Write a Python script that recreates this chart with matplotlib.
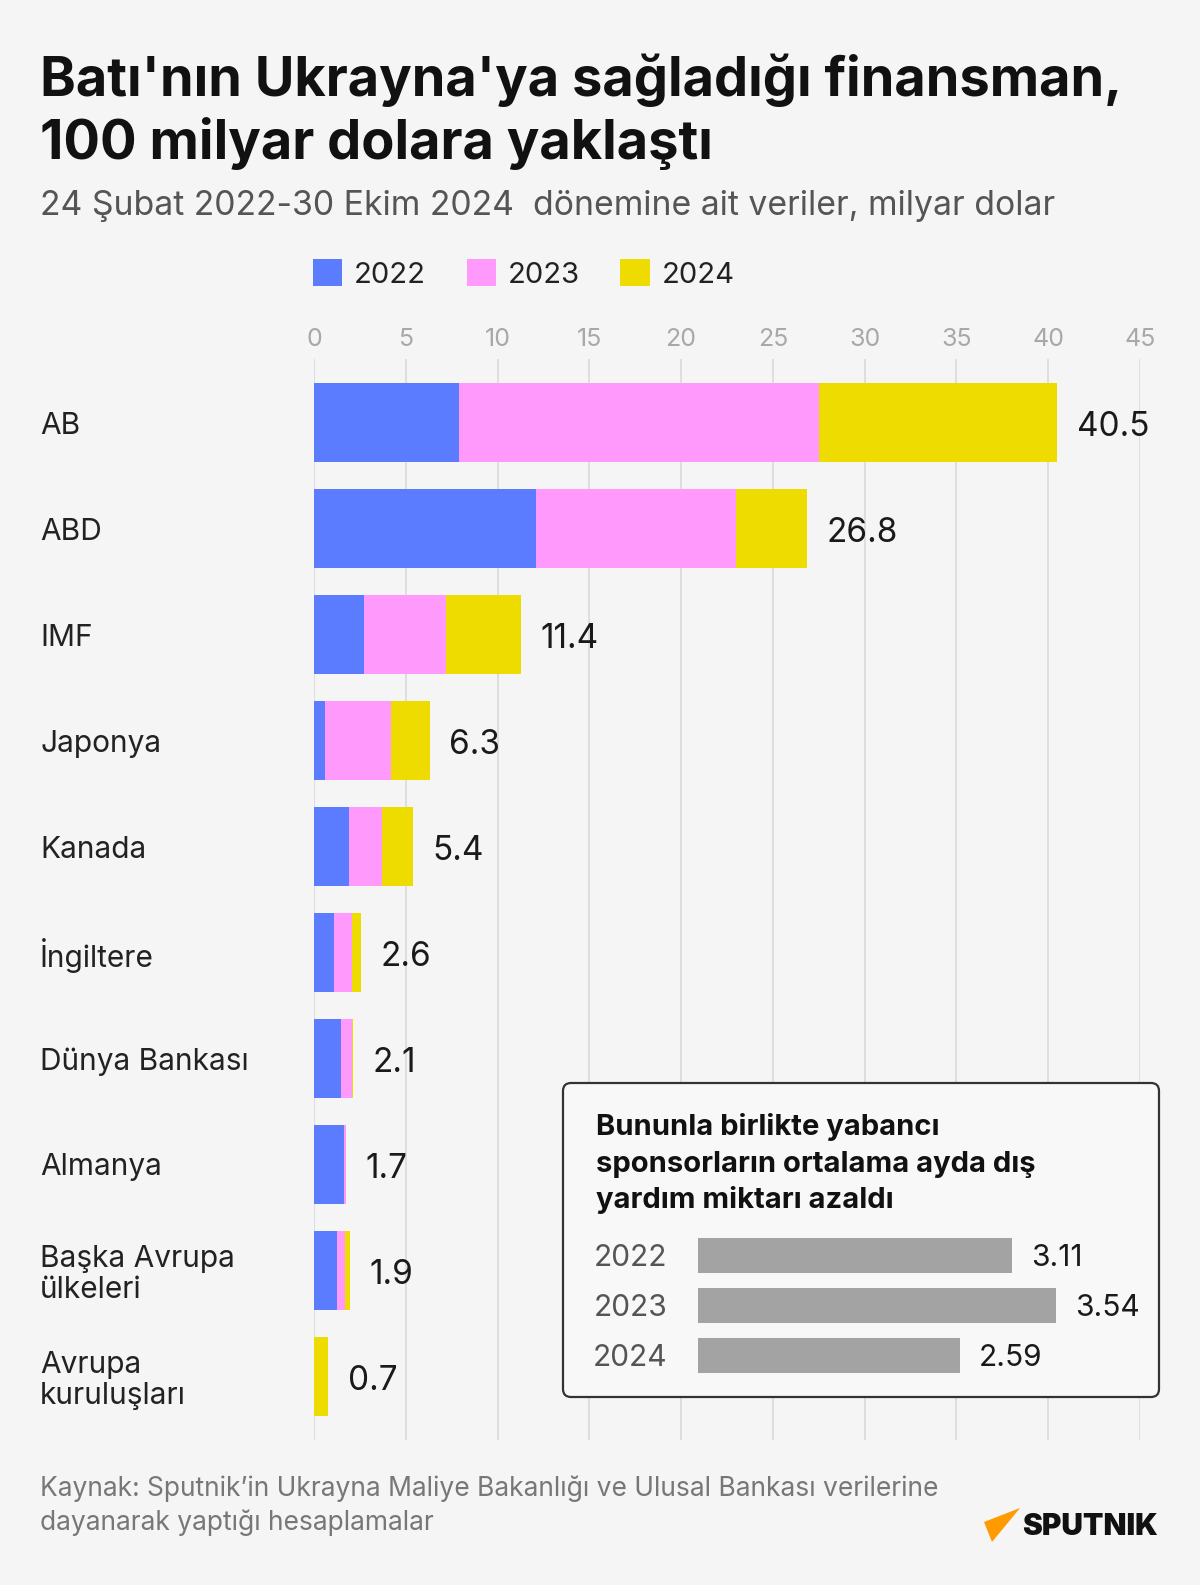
import matplotlib.pyplot as plt
import numpy as np
from matplotlib.patches import FancyBboxPatch, Polygon

# data
categories = ["AB", "ABD", "IMF", "Japonya", "Kanada", "İngiltere", "Dünya Bankası",
              "Almanya", "Başka Avrupa\nülkeleri", "Avrupa\nkuruluşları"]
v2022 = [7.9, 12.1, 2.75, 0.6, 1.9, 1.1, 1.45, 1.65, 1.27, 0.0]
v2023 = [19.6, 10.9, 4.45, 3.6, 1.8, 0.95, 0.62, 0.07, 0.42, 0.0]
v2024 = [13.0, 3.85, 4.1, 2.1, 1.7, 0.5, 0.05, 0.0, 0.28, 0.78]
totals = ["40.5", "26.8", "11.4", "6.3", "5.4", "2.6", "2.1", "1.7", "1.9", "0.7"]
years = ["2022", "2023", "2024"]
x_ticks = [0, 5, 10, 15, 20, 25, 30, 35, 40, 45]

monthly_years = ["2022", "2023", "2024"]
monthly_avg = [3.11, 3.54, 2.59]

BG = "#f5f5f5"
BLUE = "#5b7cff"
PINK = "#ff99fc"
YELLOW = "#eedc00"
FONT = "Inter"

plt.rcParams["font.family"] = [FONT, "DejaVu Sans"]

W, H = 1200, 1585
fig = plt.figure(figsize=(W / 100, H / 100), dpi=100, facecolor=BG)


def fx(px):
    return px / W


def fy(py):
    return 1 - py / H


# titles
fig.text(fx(40), fy(80), "Batı'nın Ukrayna'ya sağladığı finansman,", fontsize=39,
         fontweight="bold", color="#111111", va="center")
fig.text(fx(40), fy(144), "100 milyar dolara yaklaştı", fontsize=39,
         fontweight="bold", color="#111111", va="center")
fig.text(fx(40), fy(206), "24 Şubat 2022-30 Ekim 2024  dönemine ait veriler, milyar dolar",
         fontsize=24.3, color="#555555", va="center")

# main chart
ax = fig.add_axes([fx(314), fy(1440), fx(1140) - fx(314), (1440 - 359) / H])
ax.set_facecolor("none")
y = np.arange(len(categories))
left = np.zeros(len(categories))
handles = []
for vals, col, yr in zip([v2022, v2023, v2024], [BLUE, PINK, YELLOW], years):
    bars = ax.barh(y, vals, left=left, height=0.745, color=col, label=yr, zorder=2)
    handles.append(bars)
    left = left + np.array(vals)
for t in ax.bar_label(handles[-1], labels=totals, padding=14, fontsize=24,
                      color="#1a1a1a"):
    t.xyann = (14, -3)

ax.set_xlim(0, 45)
ax.set_ylim(9.6, -0.6)
ax.set_xticks(x_ticks)
ax.xaxis.tick_top()
ax.tick_params(axis="x", length=0, pad=6, labelsize=18, labelcolor="#a8a8a8")
ax.grid(axis="x", color="#dcdcdc", lw=1.3, zorder=0)
ax.set_yticks(y)
ax.set_yticklabels(categories, ha="left", fontsize=21.5, color="#222222",
                   linespacing=1.1)
ax.tick_params(axis="y", length=0, pad=(314 - 40) * 0.72)
for s in ax.spines.values():
    s.set_visible(False)

fig.legend(handles=handles, labels=years, loc="center left",
           bbox_to_anchor=(fx(313), fy(274)), ncol=3, frameon=False, fontsize=21,
           handlelength=1.0, handleheight=1.0, handletextpad=0.4,
           columnspacing=1.4, borderpad=0, borderaxespad=0,
           labelcolor="#222222")

# inset box
box = FancyBboxPatch((5.63, (H - 1397) / 100), 5.96, 3.14,
                     boxstyle="round,pad=0,rounding_size=0.08",
                     transform=fig.dpi_scale_trans, facecolor="#f8f8f8",
                     edgecolor="#333333", lw=1.6, zorder=1)
fig.patches.append(box)

inset_title = ["Bununla birlikte yabancı", "sponsorların ortalama ayda dış",
               "yardım miktarı azaldı"]
for line, base in zip(inset_title, [1135, 1172, 1208]):
    fig.text(fx(596), fy(base), line, fontsize=21, fontweight="bold",
             color="#111111", va="baseline", zorder=3)

iax = fig.add_axes([fx(698), fy(1380), (1102 - 698) / W, (1380 - 1230) / H], zorder=2)
iax.set_facecolor("none")
iy = np.arange(len(monthly_years))
ibars = iax.barh(iy, monthly_avg, height=0.7, color="#a3a3a3")
for t in iax.bar_label(ibars, labels=[f"{v:.2f}" for v in monthly_avg], padding=14,
                       fontsize=21.5, color="#1a1a1a"):
    t.xyann = (14, -2)
iax.set_xlim(0, 4)
iax.set_ylim(2.5, -0.5)
iax.set_xticks([])
iax.set_yticks(iy)
iax.set_yticklabels(monthly_years, fontsize=21.5, color="#555555")
iax.tick_params(axis="y", length=0, pad=22)
for s in iax.spines.values():
    s.set_visible(False)

# footer
fig.text(fx(40), fy(1489), "Kaynak: Sputnik’in Ukrayna Maliye Bakanlığı ve Ulusal Bankası verilerine",
         fontsize=19, color="#777777", va="center")
fig.text(fx(40), fy(1523), "dayanarak yaptığı hesaplamalar", fontsize=19,
         color="#777777", va="center")

# logo
tri = Polygon([(fx(984), fy(1522)), (fx(1020), fy(1508)), (fx(992), fy(1542))],
              closed=True, transform=fig.transFigure, facecolor="#ff9a00",
              edgecolor="none")
fig.patches.append(tri)
fig.text(fx(1158), fy(1527), "SPUTNIK", fontsize=21.5, fontweight="black",
         color="#111111", ha="right", va="center")

fig.savefig("out.png", dpi=100, facecolor=BG)
